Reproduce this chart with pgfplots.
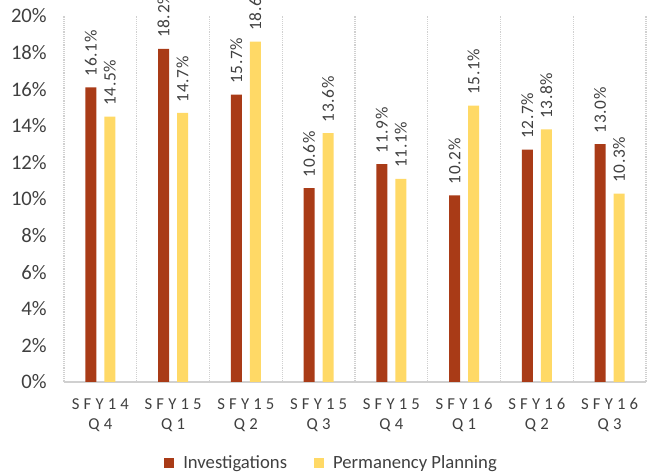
\documentclass[border=0pt]{standalone}
\usepackage{pgfplots}
\pgfplotsset{compat=1.18}
\usepackage{fontspec}
\setmainfont{Carlito}
\newfontfamily\spaced[LetterSpace=25]{Carlito}
\newfontfamily\lblfont[LetterSpace=4]{Carlito}

\definecolor{invcol}{HTML}{A93B17}
\definecolor{ppcol}{HTML}{FFD966}
\definecolor{gridcol}{HTML}{D0D0D0}
\definecolor{txtcol}{HTML}{404040}

\begin{document}
\begin{tikzpicture}
\begin{axis}[
    at={(0,0)}, anchor=south west,
    width=436.5pt, height=274.5pt,
    scale only axis,
    clip=false,
    ybar=6pt,
    bar width=8.25pt,
    xmin=-0.5, xmax=7.5,
    ymin=0, ymax=20,
    xtick={0,1,...,7},
    xticklabels={{SFY14\\Q4},{SFY15\\Q1},{SFY15\\Q2},{SFY15\\Q3},{SFY15\\Q4},{SFY16\\Q1},{SFY16\\Q2},{SFY16\\Q3}},
    minor xtick={-0.5,0.5,...,7.5},
    xminorgrids,
    minor grid style={gridcol, densely dotted, line width=0.8pt},
    ytick={0,2,...,20},
    yticklabels={0\%,2\%,4\%,6\%,8\%,10\%,12\%,14\%,16\%,18\%,20\%},
    major tick length=0pt, minor tick length=0pt,
    tick style={draw=none},
    axis x line*=bottom, axis y line*=left,
    x axis line style={draw=gridcol, line width=0.8pt, -},
    y axis line style={draw=none},
    every y tick label/.append style={font=\fontsize{15.5}{18}\selectfont, text=txtcol, anchor=east, inner sep=0pt, xshift=-12.75pt},
    every x tick label/.append style={font=\fontsize{12.5}{15}\selectfont\spaced, text=txtcol, align=center, anchor=north, inner sep=0pt, yshift=-12pt},
    nodes near coords={\hspace*{8pt}\pgfmathprintnumber[fixed,fixed zerofill,precision=1,assume math mode=true]{\pgfplotspointmeta}\%},
    nodes near coords style={font=\fontsize{13}{15}\selectfont\lblfont, text=txtcol, rotate=90, anchor=west, inner sep=0pt},
    legend style={at={(axis description cs:0.46,-0.221)}, anchor=center, draw=none, fill=none,
        legend columns=2, font=\fontsize{14}{16}\selectfont, text=txtcol,
        /tikz/every odd column/.append style={column sep=5pt},
        /tikz/every even column/.append style={column sep=18pt}},
    legend image code/.code={\fill[#1] (0pt,-3.6pt) rectangle (7.5pt,3.9pt);},
]
\addplot[fill=invcol, draw=none] coordinates {
    (0,16.1) (1,18.2) (2,15.7) (3,10.6) (4,11.9) (5,10.2) (6,12.7) (7,13.0)
};
\addlegendentry{Investigations}
\addplot[fill=ppcol, draw=none] coordinates {
    (0,14.5) (1,14.7) (2,18.6) (3,13.6) (4,11.1) (5,15.1) (6,13.8) (7,10.3)
};
\addlegendentry{Permanency Planning}
\end{axis}
\pgfresetboundingbox
\useasboundingbox (-48pt,-68.25pt) rectangle (445.5pt,286.5pt);
\end{tikzpicture}
\end{document}
